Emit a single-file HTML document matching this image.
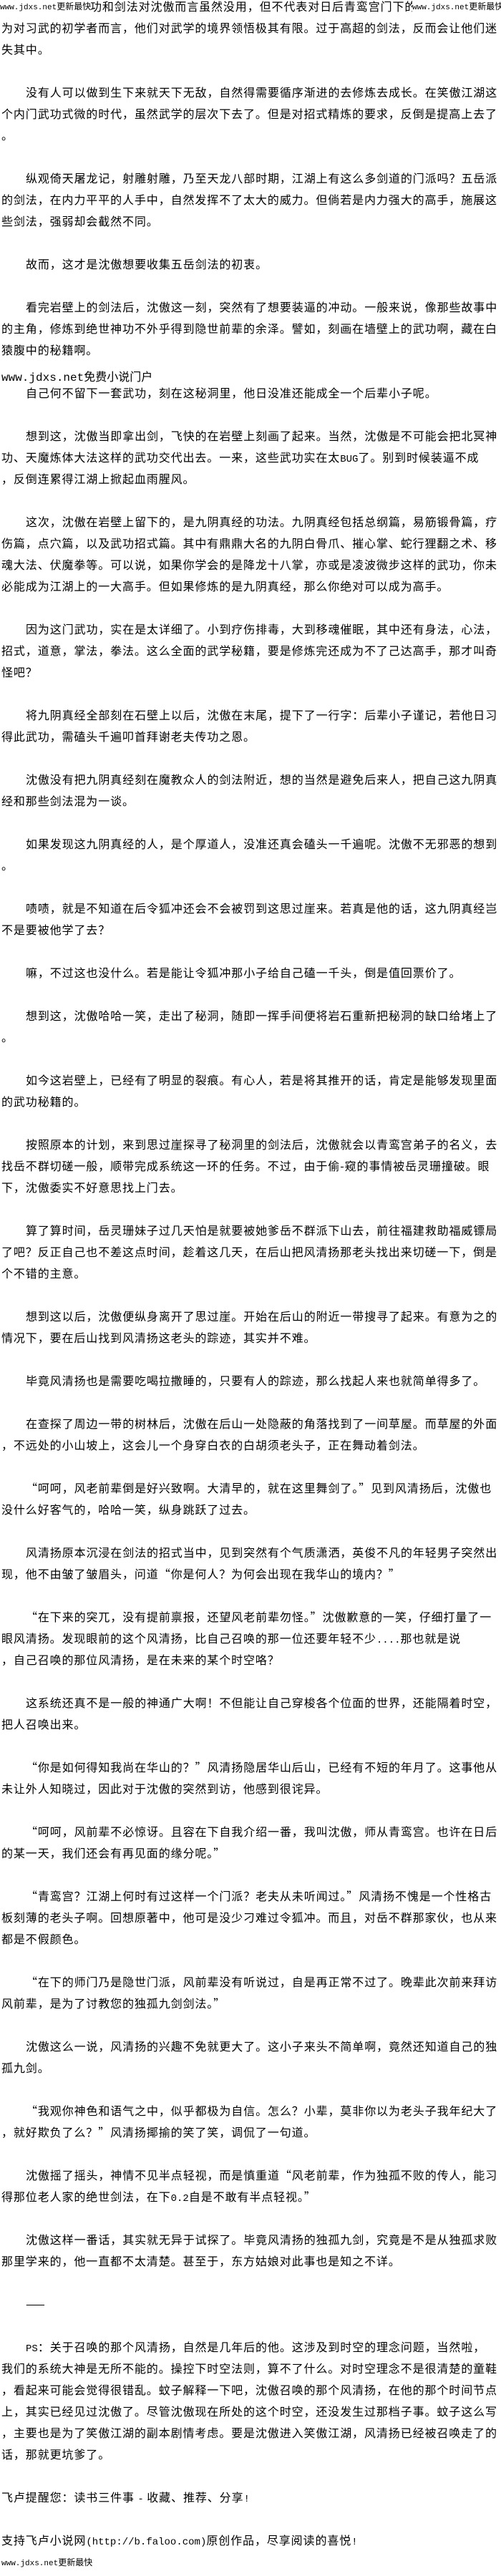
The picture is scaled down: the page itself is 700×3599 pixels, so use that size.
<!DOCTYPE html>
<html><head><meta charset="utf-8">
<style>
html,body{margin:0;padding:0;background:#fff;}
body{width:700px;height:3590px;overflow:hidden;position:relative;}
#c{position:absolute;left:2px;top:-7px;width:700px;}
.l{height:30px;line-height:30px;white-space:nowrap;font-family:"Noto Sans CJK SC","WenQuanYi Zen Hei",sans-serif;font-size:16px;letter-spacing:0.9px;color:#000;}
.i{padding-left:34px;}
.a{font-family:"Liberation Mono",monospace;font-size:14px;letter-spacing:0;}
.wm{font-size:12px;letter-spacing:0;}
.wm .a{font-size:11px;}
</style></head><body>
<div style="position:absolute;left:0;top:0;height:17px;line-height:17px;white-space:nowrap;background:#fff;z-index:2;font-family:'Noto Sans CJK SC',sans-serif;" class="wm"><span class="a">www.jdxs.net</span>更新最快</div>
<div style="position:absolute;left:576px;top:0;width:124px;height:17px;line-height:17px;white-space:nowrap;background:#fff;z-index:2;font-family:'Noto Sans CJK SC',sans-serif;" class="wm"><span class="a">www.jdxs.net</span>更新最快</div>
<div id="c">
<div class="l" style="padding-left:124px">功和剑法对沈傲而言虽然没用，但不代表对日后青鸾宫门下的</div>
<div class="l">为对习武的初学者而言，他们对武学的境界领悟极其有限。过于高超的剑法，反而会让他们迷</div>
<div class="l">失其中。</div>
<div class="l"></div>
<div class="l i">没有人可以做到生下来就天下无敌，自然得需要循序渐进的去修炼去成长。在笑傲江湖这</div>
<div class="l">个内门武功式微的时代，虽然武学的层次下去了。但是对招式精炼的要求，反倒是提高上去了</div>
<div class="l">。</div>
<div class="l"></div>
<div class="l i">纵观倚天屠龙记，射雕射雕，乃至天龙八部时期，江湖上有这么多剑道的门派吗？五岳派</div>
<div class="l">的剑法，在内力平平的人手中，自然发挥不了太大的威力。但倘若是内力强大的高手，施展这</div>
<div class="l">些剑法，强弱却会截然不同。</div>
<div class="l"></div>
<div class="l i">故而，这才是沈傲想要收集五岳剑法的初衷。</div>
<div class="l"></div>
<div class="l i">看完岩壁上的剑法后，沈傲这一刻，突然有了想要装逼的冲动。一般来说，像那些故事中</div>
<div class="l">的主角，修炼到绝世神功不外乎得到隐世前辈的余泽。譬如，刻画在墙壁上的武功啊，藏在白</div>
<div class="l">猿腹中的秘籍啊。</div>
<div class="l" style="line-height:44px;letter-spacing:0"><span class="a" style="font-size:16px">www.jdxs.net</span>免费小说门户</div>
<div class="l i">自己何不留下一套武功，刻在这秘洞里，他日没准还能成全一个后辈小子呢。</div>
<div class="l"></div>
<div class="l i">想到这，沈傲当即拿出剑，飞快的在岩壁上刻画了起来。当然，沈傲是不可能会把北冥神</div>
<div class="l">功、天魔炼体大法这样的武功交代出去。一来，这些武功实在太<span class="a">BUG</span>了。别到时候装逼不成</div>
<div class="l">，反倒连累得江湖上掀起血雨腥风。</div>
<div class="l"></div>
<div class="l i">这次，沈傲在岩壁上留下的，是九阴真经的功法。九阴真经包括总纲篇，易筋锻骨篇，疗</div>
<div class="l">伤篇，点穴篇，以及武功招式篇。其中有鼎鼎大名的九阴白骨爪、摧心掌、蛇行狸翻之术、移</div>
<div class="l">魂大法、伏魔拳等。可以说，如果你学会的是降龙十八掌，亦或是凌波微步这样的武功，你未</div>
<div class="l">必能成为江湖上的一大高手。但如果修炼的是九阴真经，那么你绝对可以成为高手。</div>
<div class="l"></div>
<div class="l i">因为这门武功，实在是太详细了。小到疗伤排毒，大到移魂催眠，其中还有身法，心法，</div>
<div class="l">招式，道意，掌法，拳法。这么全面的武学秘籍，要是修炼完还成为不了己达高手，那才叫奇</div>
<div class="l">怪吧？</div>
<div class="l"></div>
<div class="l i">将九阴真经全部刻在石壁上以后，沈傲在末尾，提下了一行字：后辈小子谨记，若他日习</div>
<div class="l">得此武功，需磕头千遍叩首拜谢老夫传功之恩。</div>
<div class="l"></div>
<div class="l i">沈傲没有把九阴真经刻在魔教众人的剑法附近，想的当然是避免后来人，把自己这九阴真</div>
<div class="l">经和那些剑法混为一谈。</div>
<div class="l"></div>
<div class="l i">如果发现这九阴真经的人，是个厚道人，没准还真会磕头一千遍呢。沈傲不无邪恶的想到</div>
<div class="l">。</div>
<div class="l"></div>
<div class="l i">啧啧，就是不知道在后令狐冲还会不会被罚到这思过崖来。若真是他的话，这九阴真经岂</div>
<div class="l">不是要被他学了去？</div>
<div class="l"></div>
<div class="l i">嘛，不过这也没什么。若是能让令狐冲那小子给自己磕一千头，倒是值回票价了。</div>
<div class="l"></div>
<div class="l i">想到这，沈傲哈哈一笑，走出了秘洞，随即一挥手间便将岩石重新把秘洞的缺口给堵上了</div>
<div class="l">。</div>
<div class="l"></div>
<div class="l i">如今这岩壁上，已经有了明显的裂痕。有心人，若是将其推开的话，肯定是能够发现里面</div>
<div class="l">的武功秘籍的。</div>
<div class="l"></div>
<div class="l i">按照原本的计划，来到思过崖探寻了秘洞里的剑法后，沈傲就会以青鸾宫弟子的名义，去</div>
<div class="l">找岳不群切磋一般，顺带完成系统这一环的任务。不过，由于偷-窥的事情被岳灵珊撞破。眼</div>
<div class="l">下，沈傲委实不好意思找上门去。</div>
<div class="l"></div>
<div class="l i">算了算时间，岳灵珊妹子过几天怕是就要被她爹岳不群派下山去，前往福建救助福威镖局</div>
<div class="l">了吧？反正自己也不差这点时间，趁着这几天，在后山把风清扬那老头找出来切磋一下，倒是</div>
<div class="l">个不错的主意。</div>
<div class="l"></div>
<div class="l i">想到这以后，沈傲便纵身离开了思过崖。开始在后山的附近一带搜寻了起来。有意为之的</div>
<div class="l">情况下，要在后山找到风清扬这老头的踪迹，其实并不难。</div>
<div class="l"></div>
<div class="l i">毕竟风清扬也是需要吃喝拉撒睡的，只要有人的踪迹，那么找起人来也就简单得多了。</div>
<div class="l"></div>
<div class="l i">在查探了周边一带的树林后，沈傲在后山一处隐蔽的角落找到了一间草屋。而草屋的外面</div>
<div class="l">，不远处的小山坡上，这会儿一个身穿白衣的白胡须老头子，正在舞动着剑法。</div>
<div class="l"></div>
<div class="l i">“呵呵，风老前辈倒是好兴致啊。大清早的，就在这里舞剑了。”见到风清扬后，沈傲也</div>
<div class="l">没什么好客气的，哈哈一笑，纵身跳跃了过去。</div>
<div class="l"></div>
<div class="l i">风清扬原本沉浸在剑法的招式当中，见到突然有个气质潇洒，英俊不凡的年轻男子突然出</div>
<div class="l">现，他不由皱了皱眉头，问道“你是何人？为何会出现在我华山的境内？”</div>
<div class="l"></div>
<div class="l i">“在下来的突兀，没有提前禀报，还望风老前辈勿怪。”沈傲歉意的一笑，仔细打量了一</div>
<div class="l">眼风清扬。发现眼前的这个风清扬，比自己召唤的那一位还要年轻不少<span class="a">....</span>那也就是说</div>
<div class="l">，自己召唤的那位风清扬，是在未来的某个时空咯？</div>
<div class="l"></div>
<div class="l i">这系统还真不是一般的神通广大啊！不但能让自己穿梭各个位面的世界，还能隔着时空，</div>
<div class="l">把人召唤出来。</div>
<div class="l"></div>
<div class="l i">“你是如何得知我尚在华山的？”风清扬隐居华山后山，已经有不短的年月了。这事他从</div>
<div class="l">未让外人知晓过，因此对于沈傲的突然到访，他感到很诧异。</div>
<div class="l"></div>
<div class="l i">“呵呵，风前辈不必惊讶。且容在下自我介绍一番，我叫沈傲，师从青鸾宫。也许在日后</div>
<div class="l">的某一天，我们还会有再见面的缘分呢。”</div>
<div class="l"></div>
<div class="l i">“青鸾宫？江湖上何时有过这样一个门派？老夫从未听闻过。”风清扬不愧是一个性格古</div>
<div class="l">板刻薄的老头子啊。回想原著中，他可是没少刁难过令狐冲。而且，对岳不群那家伙，也从来</div>
<div class="l">都是不假颜色。</div>
<div class="l"></div>
<div class="l i">“在下的师门乃是隐世门派，风前辈没有听说过，自是再正常不过了。晚辈此次前来拜访</div>
<div class="l">风前辈，是为了讨教您的独孤九剑剑法。”</div>
<div class="l"></div>
<div class="l i">沈傲这么一说，风清扬的兴趣不免就更大了。这小子来头不简单啊，竟然还知道自己的独</div>
<div class="l">孤九剑。</div>
<div class="l"></div>
<div class="l i">“我观你神色和语气之中，似乎都极为自信。怎么？小辈，莫非你以为老头子我年纪大了</div>
<div class="l">，就好欺负了么？”风清扬揶揄的笑了笑，调侃了一句道。</div>
<div class="l"></div>
<div class="l i">沈傲摇了摇头，神情不见半点轻视，而是慎重道“风老前辈，作为独孤不败的传人，能习</div>
<div class="l">得那位老人家的绝世剑法，在下<span class="a">0.2</span>自是不敢有半点轻视。”</div>
<div class="l"></div>
<div class="l i">沈傲这样一番话，其实就无异于试探了。毕竟风清扬的独孤九剑，究竟是不是从独孤求败</div>
<div class="l">那里学来的，他一直都不太清楚。甚至于，东方姑娘对此事也是知之不详。</div>
<div class="l"></div>
<div class="l i">——</div>
<div class="l"></div>
<div class="l i"><span class="a">PS</span>：关于召唤的那个风清扬，自然是几年后的他。这涉及到时空的理念问题，当然啦，</div>
<div class="l">我们的系统大神是无所不能的。操控下时空法则，算不了什么。对时空理念不是很清楚的童鞋</div>
<div class="l">，看起来可能会觉得很错乱。蚊子解释一下吧，沈傲召唤的那个风清扬，在他的那个时间节点</div>
<div class="l">上，其实已经见过沈傲了。尽管沈傲现在所处的这个时空，还没发生过那档子事。蚊子这么写</div>
<div class="l">，主要也是为了笑傲江湖的副本剧情考虑。要是沈傲进入笑傲江湖，风清扬已经被召唤走了的</div>
<div class="l">话，那就更坑爹了。</div>
<div class="l"></div>
<div class="l">飞卢提醒您：读书三件事 <span class="a">-</span> 收藏、推荐、分享<span class="a">!</span></div>
<div class="l"></div>
<div class="l">支持飞卢小说网<span class="a">(http://b.faloo.com)</span>原创作品，尽享阅读的喜悦<span class="a">!</span></div>
<div class="l wm" style="line-height:34px"><span class="a">www.jdxs.net</span>更新最快</div>
</div>
</body></html>
